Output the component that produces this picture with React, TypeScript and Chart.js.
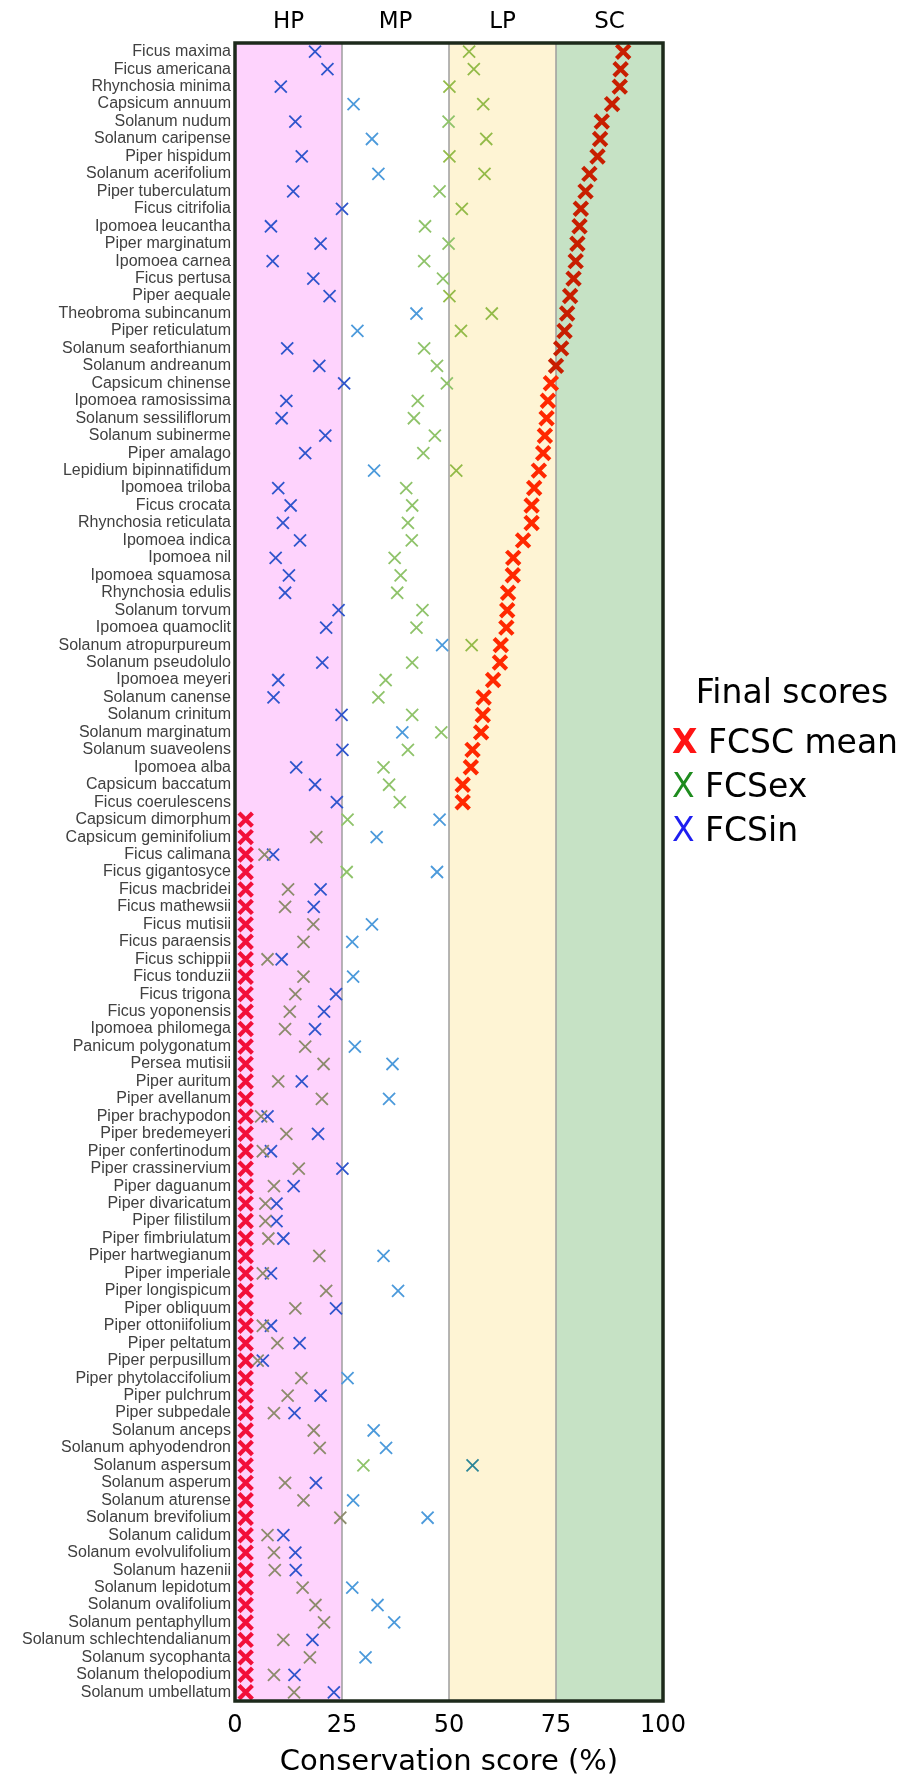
import React, { useEffect, useRef } from 'react';
import { Chart, registerables } from 'chart.js';

Chart.register(...registerables);

const species = [
  'Ficus maxima', 'Ficus americana', 'Rhynchosia minima', 'Capsicum annuum', 'Solanum nudum',
  'Solanum caripense', 'Piper hispidum', 'Solanum acerifolium', 'Piper tuberculatum', 'Ficus citrifolia',
  'Ipomoea leucantha', 'Piper marginatum', 'Ipomoea carnea', 'Ficus pertusa', 'Piper aequale',
  'Theobroma subincanum', 'Piper reticulatum', 'Solanum seaforthianum', 'Solanum andreanum', 'Capsicum chinense',
  'Ipomoea ramosissima', 'Solanum sessiliflorum', 'Solanum subinerme', 'Piper amalago', 'Lepidium bipinnatifidum',
  'Ipomoea triloba', 'Ficus crocata', 'Rhynchosia reticulata', 'Ipomoea indica', 'Ipomoea nil',
  'Ipomoea squamosa', 'Rhynchosia edulis', 'Solanum torvum', 'Ipomoea quamoclit', 'Solanum atropurpureum',
  'Solanum pseudolulo', 'Ipomoea meyeri', 'Solanum canense', 'Solanum crinitum', 'Solanum marginatum',
  'Solanum suaveolens', 'Ipomoea alba', 'Capsicum baccatum', 'Ficus coerulescens', 'Capsicum dimorphum',
  'Capsicum geminifolium', 'Ficus calimana', 'Ficus gigantosyce', 'Ficus macbridei', 'Ficus mathewsii',
  'Ficus mutisii', 'Ficus paraensis', 'Ficus schippii', 'Ficus tonduzii', 'Ficus trigona',
  'Ficus yoponensis', 'Ipomoea philomega', 'Panicum polygonatum', 'Persea mutisii', 'Piper auritum',
  'Piper avellanum', 'Piper brachypodon', 'Piper bredemeyeri', 'Piper confertinodum', 'Piper crassinervium',
  'Piper daguanum', 'Piper divaricatum', 'Piper filistilum', 'Piper fimbriulatum', 'Piper hartwegianum',
  'Piper imperiale', 'Piper longispicum', 'Piper obliquum', 'Piper ottoniifolium', 'Piper peltatum',
  'Piper perpusillum', 'Piper phytolaccifolium', 'Piper pulchrum', 'Piper subpedale', 'Solanum anceps',
  'Solanum aphyodendron', 'Solanum aspersum', 'Solanum asperum', 'Solanum aturense', 'Solanum brevifolium',
  'Solanum calidum', 'Solanum evolvulifolium', 'Solanum hazenii', 'Solanum lepidotum', 'Solanum ovalifolium',
  'Solanum pentaphyllum', 'Solanum schlechtendalianum', 'Solanum sycophanta', 'Solanum thelopodium', 'Solanum umbellatum',
];

const fcscMean = [
  90.7, 90.1, 89.9, 88.1, 85.7, 85.3, 84.7, 82.8, 81.9, 80.8,
  80.5, 80.0, 79.6, 79.1, 78.3, 77.6, 77.0, 76.2, 75.0, 73.8,
  73.1, 72.8, 72.4, 72.0, 71.0, 69.9, 69.3, 69.3, 67.3, 65.0,
  64.9, 63.8, 63.6, 63.4, 62.1, 61.9, 60.3, 58.1, 57.9, 57.5,
  55.5, 55.1, 53.2, 53.2, 2.5, 2.5, 2.5, 2.5, 2.5, 2.5,
  2.5, 2.5, 2.5, 2.5, 2.5, 2.5, 2.5, 2.5, 2.5, 2.5,
  2.5, 2.5, 2.5, 2.5, 2.5, 2.5, 2.5, 2.5, 2.5, 2.5,
  2.5, 2.5, 2.5, 2.5, 2.5, 2.5, 2.5, 2.5, 2.5, 2.5,
  2.5, 2.5, 2.5, 2.5, 2.5, 2.5, 2.5, 2.5, 2.5, 2.5,
  2.5, 2.5, 2.5, 2.5, 2.5,
];

const fcsEx = [
  54.7, 55.8, 50.1, 58.0, 49.9, 58.7, 50.1, 58.3, 47.8, 53.0,
  44.4, 49.9, 44.2, 48.6, 50.1, 60.0, 52.8, 44.2, 47.2, 49.5,
  42.7, 41.8, 46.7, 44.0, 51.7, 40.0, 41.4, 40.4, 41.3, 37.3,
  38.7, 37.9, 43.8, 42.4, 55.3, 41.4, 35.2, 33.5, 41.4, 48.2,
  40.4, 34.7, 36.0, 38.5, 26.3, 19.0, 6.9, 26.1, 12.4, 11.7,
  18.3, 16.0, 7.6, 16.0, 14.1, 12.8, 11.7, 16.4, 20.7, 10.1,
  20.3, 6.1, 12.0, 6.5, 14.9, 9.1, 7.1, 7.1, 7.8, 19.7,
  6.5, 21.3, 14.1, 6.5, 9.9, 5.3, 15.5, 12.3, 9.1, 18.4,
  19.8, 30.0, 11.7, 16.0, 24.6, 7.6, 9.1, 9.3, 15.8, 18.8,
  20.8, 11.3, 17.5, 9.1, 13.8,
];

const fcsIn = [
  18.7, 21.6, 10.7, 27.7, 14.1, 32.0, 15.6, 33.5, 13.6, 25.0,
  8.4, 20.0, 8.8, 18.3, 22.1, 42.4, 28.6, 12.2, 19.7, 25.5,
  12.0, 10.9, 21.1, 16.4, 32.5, 10.1, 13.0, 11.2, 15.2, 9.5,
  12.6, 11.7, 24.2, 21.3, 48.4, 20.4, 10.1, 9.0, 24.9, 39.1,
  25.1, 14.3, 18.7, 23.8, 47.8, 33.1, 8.9, 47.2, 20.0, 18.4,
  32.0, 27.4, 10.9, 27.6, 23.6, 20.8, 18.7, 28.0, 36.8, 15.6,
  36.0, 7.6, 19.4, 8.4, 25.1, 13.7, 9.7, 9.7, 11.3, 34.7,
  8.4, 38.1, 23.6, 8.4, 15.1, 6.5, 26.3, 20.0, 13.9, 32.4,
  35.3, 55.5, 18.9, 27.6, 45.0, 11.3, 14.1, 14.2, 27.4, 33.3,
  37.2, 18.1, 30.5, 13.9, 23.1,
];

const bandNames = ['HP', 'MP', 'LP', 'SC'];
const bandEdges = [0, 25, 50, 75, 100];
const bandFills = ['#FED3FD', '#FFFFFF', '#FEF4D4', '#C6E2C5'];

const redByBand = ['#F2103A', '#FF2A00', '#FF2800', '#C81E00'];
const greenByBand = ['#8C8B6C', '#8FC36A', '#93BA48', '#6E9A40'];
const blueByBand = ['#2F55CC', '#4C9ADB', '#2C8597', '#2C6A8C'];

const bandOf = (v: number) => (v <= 25.5 ? 0 : v < 50 ? 1 : v < 75 ? 2 : 3);

const FONT = '"DejaVu Sans", Verdana, sans-serif';

const bandsPlugin = {
  id: 'bands',
  beforeDatasetsDraw(chart: any) {
    const { ctx, chartArea: a, scales } = chart;
    const x = scales.x;
    ctx.save();
    for (let i = 0; i < bandNames.length; i++) {
      const x0 = x.getPixelForValue(bandEdges[i]);
      const x1 = x.getPixelForValue(bandEdges[i + 1]);
      ctx.fillStyle = bandFills[i];
      ctx.fillRect(x0, a.top, x1 - x0, a.bottom - a.top);
    }
    ctx.strokeStyle = '#9E9E9E';
    ctx.lineWidth = 1.5;
    for (let i = 1; i < bandEdges.length - 1; i++) {
      const px = x.getPixelForValue(bandEdges[i]);
      ctx.beginPath();
      ctx.moveTo(px, a.top);
      ctx.lineTo(px, a.bottom);
      ctx.stroke();
    }
    ctx.restore();
  },
  afterDatasetsDraw(chart: any) {
    const { ctx, chartArea: a } = chart;
    ctx.save();
    ctx.strokeStyle = '#1D2A1B';
    ctx.lineWidth = 3.5;
    ctx.strokeRect(a.left, a.top, a.right - a.left, a.bottom - a.top);
    ctx.restore();
  },
  afterDraw(chart: any) {
    const { ctx, chartArea: a, scales } = chart;
    const x = scales.x;
    ctx.save();
    ctx.fillStyle = '#000';
    ctx.font = '23px ' + FONT;
    ctx.textAlign = 'center';
    ctx.textBaseline = 'middle';
    for (let i = 0; i < bandNames.length; i++) {
      const cx = (x.getPixelForValue(bandEdges[i]) + x.getPixelForValue(bandEdges[i + 1])) / 2;
      ctx.fillText(bandNames[i], cx, a.top - 21);
    }
    ctx.restore();
  },
};

export default function App() {
  const ref = useRef<HTMLCanvasElement>(null);

  useEffect(() => {
    if (!ref.current) return;
    const chart = new Chart(ref.current, {
      type: 'line',
      data: {
        labels: species,
        datasets: [
          {
            label: 'FCSC mean',
            data: fcscMean,
            showLine: false,
            pointStyle: 'crossRot',
            pointRadius: 9.5,
            pointHoverRadius: 9.5,
            pointBorderWidth: 4.2,
            pointHoverBorderWidth: 4.2,
            pointBackgroundColor: 'transparent',
            pointBorderColor: (c: any) => redByBand[bandOf(c.raw)],
            clip: false,
          } as any,
          {
            label: 'FCSex',
            data: fcsEx,
            showLine: false,
            pointStyle: 'crossRot',
            pointRadius: 8.5,
            pointHoverRadius: 8.5,
            pointBorderWidth: 1.8,
            pointHoverBorderWidth: 1.8,
            pointBackgroundColor: 'transparent',
            pointBorderColor: (c: any) => greenByBand[bandOf(c.raw)],
            clip: false,
          },
          {
            label: 'FCSin',
            data: fcsIn,
            showLine: false,
            pointStyle: 'crossRot',
            pointRadius: 8.5,
            pointHoverRadius: 8.5,
            pointBorderWidth: 1.8,
            pointHoverBorderWidth: 1.8,
            pointBackgroundColor: 'transparent',
            pointBorderColor: (c: any) => blueByBand[bandOf(c.raw)],
            clip: false,
          },
        ],
      },
      options: {
        indexAxis: 'y',
        responsive: false,
        devicePixelRatio: 1,
        animation: false,
        events: [],
        layout: { padding: { top: 43, right: 252, bottom: 0, left: 0 } },
        plugins: {
          legend: { display: false },
          tooltip: { enabled: false },
        },
        scales: {
          y: {
            type: 'category',
            offset: true,
            grid: { display: false, drawTicks: false },
            border: { display: false },
            ticks: {
              autoSkip: false,
              padding: 4,
              color: '#404040',
              font: { family: '"Liberation Sans", Arial, sans-serif', size: 16, lineHeight: 1 },
            },
            afterFit: (s: any) => {
              s.width = 235;
            },
          },
          x: {
            type: 'linear',
            min: 0,
            max: 100,
            grid: { display: false, drawTicks: false },
            border: { display: false },
            ticks: {
              stepSize: 25,
              padding: 10,
              color: '#000',
              font: { family: FONT, size: 24 },
            },
            title: {
              display: true,
              text: 'Conservation score (%)',
              color: '#000',
              padding: 0,
              font: { family: FONT, size: 29, lineHeight: 1 },
            },
            afterFit: (s: any) => {
              s.height = 76;
            },
          },
        },
      } as any,
      plugins: [bandsPlugin],
    });
    return () => chart.destroy();
  }, []);

  const entry = { paddingLeft: 3, whiteSpace: 'nowrap' as const };

  return (
    <div style={{ position: 'relative', width: 915, height: 1777 }}>
      <style>{'html,body{margin:0;padding:0;overflow:hidden}'}</style>
      <canvas ref={ref} width={915} height={1777} style={{ display: 'block', width: 915, height: 1777 }} />
      <div
        style={{
          position: 'absolute',
          left: 669,
          top: 670,
          width: 246,
          fontFamily: FONT,
          fontSize: 33,
          lineHeight: '44px',
          color: '#000',
        }}
      >
        <div style={{ textAlign: 'center', marginBottom: 6, whiteSpace: 'nowrap' }}>Final scores</div>
        <div style={entry}>
          <span style={{ color: '#FF1414', fontWeight: 'bold' }}>X</span> FCSC mean
        </div>
        <div style={entry}>
          <span style={{ color: '#1E8C1E' }}>X</span> FCSex
        </div>
        <div style={entry}>
          <span style={{ color: '#1E1EF0' }}>X</span> FCSin
        </div>
      </div>
    </div>
  );
}
